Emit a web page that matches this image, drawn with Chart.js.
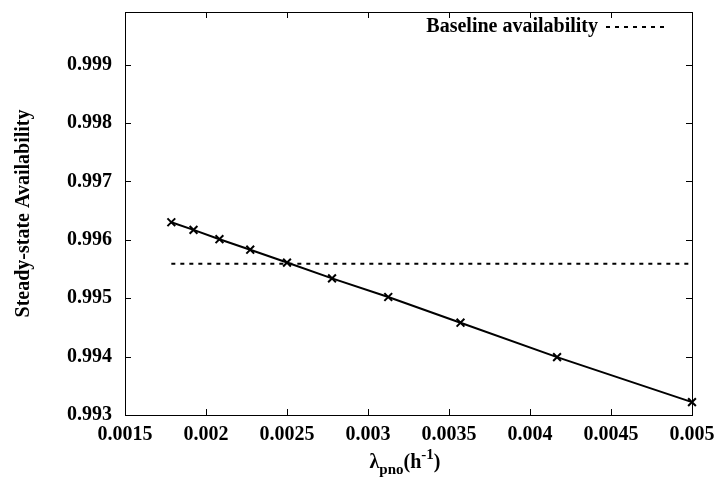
<!DOCTYPE html>
<html>
<head>
<meta charset="utf-8">
<script src="https://cdn.jsdelivr.net/npm/chart.js@4.4.1/dist/chart.umd.min.js"></script>
<style>
  html, body { margin: 0; padding: 0; background: #fff; }
  #wrap { width: 719px; height: 479px; }
</style>
</head>
<body>
<div id="wrap"><canvas id="availChart" width="719" height="479"></canvas></div>
<script>
// lambda_pno (1/h) and steady-state availability
var lambdaPno = [0.001786, 0.001923, 0.002083, 0.002273, 0.0025, 0.002778, 0.003125, 0.003571, 0.004167, 0.005]
var availability = [0.99630, 0.99617, 0.99601, 0.99583, 0.99561, 0.99534, 0.99502, 0.99458, 0.99399, 0.99322]
var baselineX = [0.001786, 0.005]
var baselineY = [0.99559, 0.99559]
var xTicks = [0.0015, 0.002, 0.0025, 0.003, 0.0035, 0.004, 0.0045, 0.005]
var yTicks = [0.993, 0.994, 0.995, 0.996, 0.997, 0.998, 0.999]

var FONT = "'Liberation Serif', 'Times New Roman', serif"

function toPoints(xs, ys) {
   return xs.map(function (x, i) { return { x: x, y: ys[i] } })
}

// frame + inward ticks on all four sides (gnuplot style)
var framePlugin = {
   id: "frame",
   afterDatasetsDraw: function (chart) {
      var c = chart.ctx, a = chart.chartArea
      var xs = chart.scales.x, ys = chart.scales.y
      c.save()
      c.strokeStyle = "#000"
      c.lineWidth = 1
      c.strokeRect(a.left + 0.5, a.top + 0.5, a.right - a.left, a.bottom - a.top)
      c.beginPath()
      xTicks.forEach(function (v) {
         var px = Math.round(xs.getPixelForValue(v)) + 0.5
         c.moveTo(px, a.bottom); c.lineTo(px, a.bottom - 6)
         c.moveTo(px, a.top); c.lineTo(px, a.top + 6)
      })
      yTicks.forEach(function (v) {
         var py = Math.round(ys.getPixelForValue(v)) + 0.5
         c.moveTo(a.left, py); c.lineTo(a.left + 6, py)
         c.moveTo(a.right, py); c.lineTo(a.right - 6, py)
      })
      c.stroke()

      // legend entry, top right inside the plot
      var label = chart.data.datasets[1].label
      c.font = "bold 20px " + FONT
      c.fillStyle = "#000"
      c.textAlign = "right"
      c.textBaseline = "middle"
      c.fillText(label, 598, 27)
      c.beginPath()
      c.setLineDash([4, 5])
      c.lineWidth = 2
      c.moveTo(606, 27); c.lineTo(668, 27)
      c.stroke()
      c.setLineDash([])

      // x axis title: lambda_pno(h^-1)
      var cx = 405
      var base = 468
      var parts = [
         { t: "\u03bb", size: 20, dy: 0 },
         { t: "pno", size: 15, dy: 6 },
         { t: "(h", size: 20, dy: 0 },
         { t: "-1", size: 15, dy: -9 },
         { t: ")", size: 20, dy: 0 },
      ]
      var total = 0
      parts.forEach(function (p) {
         c.font = "bold " + p.size + "px " + FONT
         p.w = c.measureText(p.t).width
         total += p.w
      })
      var x = cx - total / 2
      c.textAlign = "left"
      c.textBaseline = "alphabetic"
      parts.forEach(function (p) {
         c.font = "bold " + p.size + "px " + FONT
         c.fillText(p.t, x, base + p.dy)
         x += p.w
      })
      c.restore()
   },
}

var ctx = document.getElementById("availChart").getContext("2d")
var chart = new Chart(ctx, {
   type: "scatter",
   data: {
      datasets: [
         {
            label: "Availability",
            data: toPoints(lambdaPno, availability),
            showLine: true,
            clip: 8,
            borderColor: "#000",
            backgroundColor: "#000",
            borderWidth: 2,
            pointStyle: "crossRot",
            pointRadius: 5.5,
            pointBorderWidth: 2,
            pointHoverRadius: 5.5,
         },
         {
            label: "Baseline availability",
            data: toPoints(baselineX, baselineY),
            showLine: true,
            borderColor: "#000",
            borderWidth: 2,
            borderDash: [4, 5],
            pointRadius: 0,
            pointHoverRadius: 0,
         },
      ],
   },
   options: {
      responsive: false,
      animation: false,
      layout: { padding: { top: 12, right: 27, left: 0, bottom: 0 } },
      plugins: {
         legend: { display: false },
         tooltip: { enabled: false },
      },
      scales: {
         x: {
            type: "linear",
            min: 0.0015,
            max: 0.005,
            afterBuildTicks: function (s) { s.ticks = xTicks.map(function (v) { return { value: v } }) },
            afterFit: function (s) { s.height = 64; s.paddingLeft = 0; s.paddingRight = 0 },
            grid: { display: false, drawTicks: false },
            border: { display: false },
            ticks: {
               color: "#000",
               padding: 8,
               maxRotation: 0,
               font: { family: FONT, size: 20, weight: "bold" },
               callback: function (v) { return String(parseFloat(v.toFixed(4))) },
            },
         },
         y: {
            type: "linear",
            min: 0.993,
            max: 0.9999,
            afterBuildTicks: function (s) { s.ticks = yTicks.map(function (v) { return { value: v } }) },
            afterFit: function (s) { s.width = 125; s.paddingTop = 0; s.paddingBottom = 0 },
            grid: { display: false, drawTicks: false },
            border: { display: false },
            title: {
               display: true,
               text: "Steady-state Availability",
               color: "#000",
               padding: { top: 12, bottom: 0 },
               font: { family: FONT, size: 20, weight: "bold" },
            },
            ticks: {
               color: "#000",
               padding: 13,
               font: { family: FONT, size: 20, weight: "bold" },
               callback: function (v) { return v.toFixed(3) },
            },
         },
      },
   },
   plugins: [framePlugin],
})
</script>
</body>
</html>
